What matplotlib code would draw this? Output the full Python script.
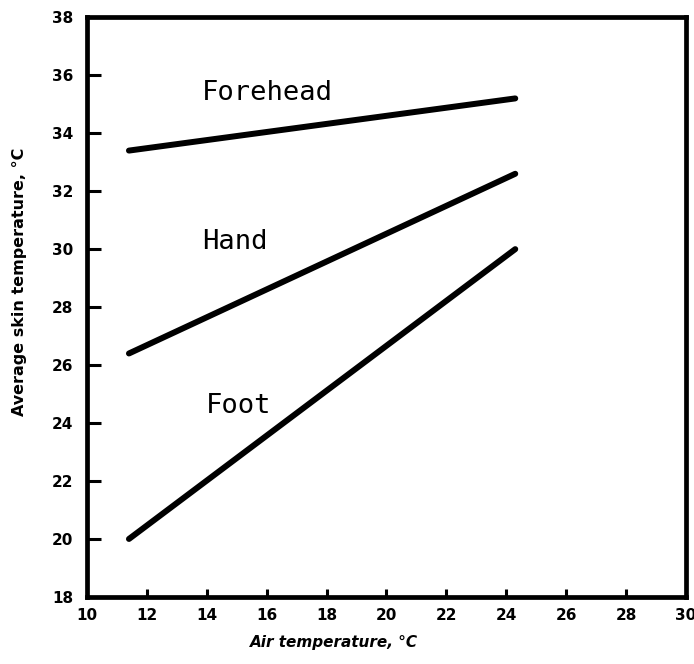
import matplotlib.pyplot as plt

# skin temperature vs. air temperature, end points of each straight line
air_temp = [11.4, 24.3]
forehead = [33.4, 35.2]
hand = [26.4, 32.6]
foot = [20.0, 30.0]

labels = ["Forehead", "Hand", "Foot"]
label_x = [13.85, 13.85, 13.98]
label_y = [35.15, 30.0, 24.35]

x_ticks = list(range(10, 31, 2))
y_ticks = list(range(18, 39, 2))

fig = plt.figure(figsize=(6.94, 6.64), dpi=100)
ax = fig.add_axes([0.1254, 0.101, 0.863, 0.873])

for series in (forehead, hand, foot):
    ax.plot(air_temp, series, color="black", linewidth=4.3, solid_capstyle="round")

for name, tx, ty in zip(labels, label_x, label_y):
    ax.text(tx, ty, name, family="DejaVu Sans Mono", fontsize=19.5,
            ha="left", va="baseline", color="black")

ax.set_xlim(10, 30)
ax.set_ylim(18, 38)

for side in ("left", "right", "top", "bottom"):
    ax.spines[side].set_linewidth(3.4)

ax.set_xticks(x_ticks)
ax.set_yticks(y_ticks)
ax.set_xticklabels([str(v) for v in x_ticks], fontweight="bold", fontsize=11)
ax.set_yticklabels([str(v) for v in y_ticks], fontweight="bold", fontsize=11)
ax.tick_params(axis="y", direction="in", length=10, width=2.2, pad=10)
ax.tick_params(axis="x", direction="in", length=6, width=2.2, pad=8)

# hide the tick marks that sit on the corners
for t in ax.xaxis.get_major_ticks()[::len(x_ticks) - 1]:
    t.tick1line.set_visible(False)
for t in ax.yaxis.get_major_ticks()[::len(y_ticks) - 1]:
    t.tick1line.set_visible(False)

fig.text(250 / 694, 1 - 643 / 664, "Air temperature, \u00b0C", fontweight="bold",
         fontsize=11, ha="left", va="center", fontstyle="italic")
fig.text(20 / 694, 1 - 282 / 664, "Average skin temperature, \u00b0C", fontweight="bold",
         fontsize=11.5, ha="center", va="center", rotation=90)

fig.savefig("out.png", dpi=100, facecolor="white")
